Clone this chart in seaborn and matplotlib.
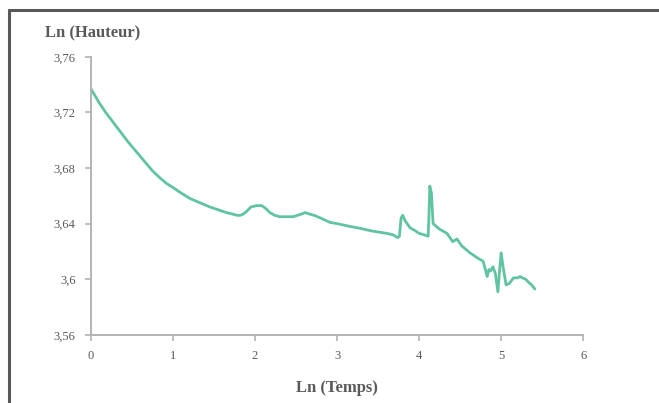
import matplotlib

matplotlib.use('Agg')
import matplotlib.pyplot as plt
from matplotlib.lines import Line2D
from matplotlib.ticker import FuncFormatter
import seaborn as sns
import pandas as pd

# values
ln_temps = [0.00, 0.05, 0.10, 0.18, 0.27, 0.36, 0.45, 0.55, 0.65, 0.75, 0.84, 0.92,
            1.00, 1.10, 1.21, 1.33, 1.45, 1.55, 1.65, 1.72, 1.78, 1.82, 1.86, 1.90,
            1.95, 2.02, 2.08, 2.13, 2.18, 2.24, 2.30, 2.38, 2.46, 2.52, 2.57, 2.61,
            2.66, 2.72, 2.80, 2.91, 3.00, 3.08, 3.16, 3.25, 3.33, 3.40, 3.50, 3.61,
            3.68, 3.74, 3.76, 3.78, 3.80, 3.83, 3.89, 3.95, 4.00, 4.06, 4.11, 4.12,
            4.13, 4.15, 4.17, 4.25, 4.34, 4.41, 4.46, 4.52, 4.62, 4.72, 4.78, 4.83,
            4.85, 4.87, 4.90, 4.93, 4.96, 4.98, 5.00, 5.02, 5.06, 5.10, 5.15, 5.20,
            5.23, 5.26, 5.30, 5.33, 5.37, 5.41]
ln_hauteur = [3.737, 3.732, 3.727, 3.720, 3.713, 3.706, 3.699, 3.692, 3.685, 3.678, 3.673, 3.669,
              3.666, 3.662, 3.658, 3.655, 3.652, 3.650, 3.648, 3.647, 3.646, 3.646, 3.647, 3.649,
              3.652, 3.653, 3.653, 3.651, 3.648, 3.646, 3.645, 3.645, 3.645, 3.646, 3.647, 3.648,
              3.647, 3.646, 3.644, 3.641, 3.640, 3.639, 3.638, 3.637, 3.636, 3.635, 3.634, 3.633,
              3.632, 3.630, 3.631, 3.644, 3.646, 3.642, 3.637, 3.635, 3.633, 3.632, 3.631, 3.645,
              3.667, 3.662, 3.640, 3.636, 3.633, 3.627, 3.629, 3.624, 3.619, 3.615, 3.613, 3.602,
              3.607, 3.606, 3.609, 3.604, 3.591, 3.606, 3.619, 3.610, 3.596, 3.597, 3.601, 3.601,
              3.602, 3.601, 3.600, 3.598, 3.596, 3.593]

x_ticks = [0, 1, 2, 3, 4, 5, 6]
y_ticks = [3.56, 3.60, 3.64, 3.68, 3.72, 3.76]

df = pd.DataFrame({'Ln (Temps)': ln_temps, 'Ln (Hauteur)': ln_hauteur})

sns.set_style('ticks')
plt.rcParams['font.family'] = ['Liberation Serif', 'DejaVu Serif']

fig = plt.figure(figsize=(6.59, 4.03), dpi=100)
ax = fig.add_axes([0.138, 0.169, 0.747, 0.690])

sns.lineplot(data=df, x='Ln (Temps)', y='Ln (Hauteur)', ax=ax, color='#5fc49f',
             linewidth=2.0, sort=False, estimator=None)

ax.set_xlim(0, 6)
ax.set_ylim(3.56, 3.76)
ax.set_xticks(x_ticks)
ax.set_yticks(y_ticks)
ax.xaxis.set_major_formatter(FuncFormatter(lambda v, p: f'{v:g}'))
ax.yaxis.set_major_formatter(FuncFormatter(lambda v, p: f'{round(v, 2):g}'.replace('.', ',')))

sns.despine(ax=ax)
for side in ['left', 'bottom']:
    ax.spines[side].set_color('#b3b3b3')
    ax.spines[side].set_linewidth(1.4)
ax.tick_params(axis='both', colors='#b3b3b3', labelcolor='#595959', labelsize=9,
               length=4, width=1.2, pad=7)

ax.set_xlabel('Ln (Temps)', fontsize=12, fontweight='bold', color='#595959', labelpad=13)
ax.set_ylabel('')
fig.text(0.068, 0.918, 'Ln (Hauteur)', fontsize=12, fontweight='bold', color='#595959',
         ha='left', va='center')

# outer frame (only top and left edges are visible in the crop)
fig.add_artist(Line2D([0.013, 0.013], [0.0, 0.975], transform=fig.transFigure,
                      color='#595959', linewidth=2.2))
fig.add_artist(Line2D([0.013, 1.0], [0.975, 0.975], transform=fig.transFigure,
                      color='#595959', linewidth=2.2))

fig.savefig('out.png', dpi=100)
